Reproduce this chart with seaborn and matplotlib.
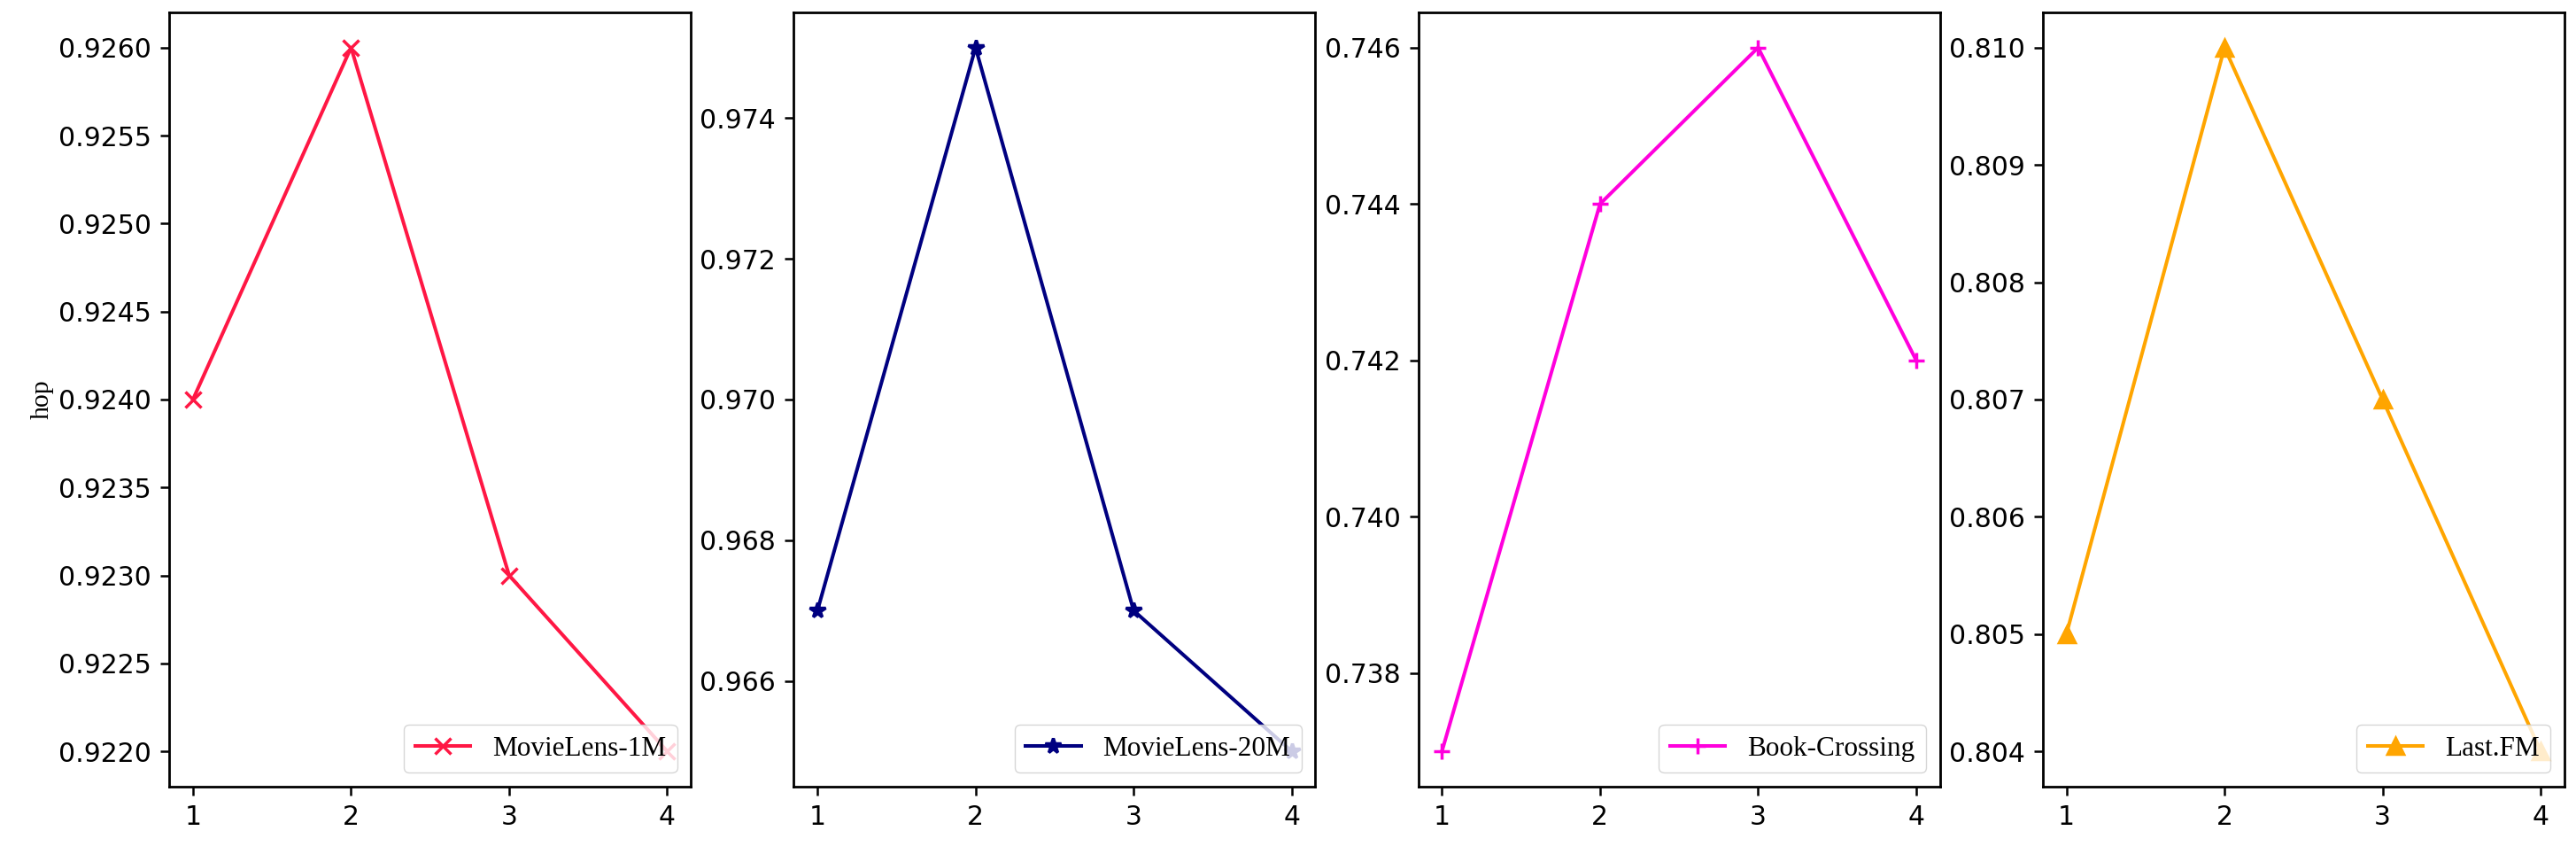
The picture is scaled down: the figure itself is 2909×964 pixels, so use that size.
import matplotlib
matplotlib.use('Agg')
import matplotlib.pyplot as plt
import seaborn as sns
import pandas as pd

# hop-tal och resultat per dataset
hops = [1, 2, 3, 4]
ml1m = [0.9240, 0.9260, 0.9230, 0.9220]
ml20m = [0.967, 0.975, 0.967, 0.965]
book = [0.737, 0.744, 0.746, 0.742]
lastfm = [0.805, 0.810, 0.807, 0.804]

names = ['MovieLens-1M', 'MovieLens-20M', 'Book-Crossing', 'Last.FM']
series = [ml1m, ml20m, book, lastfm]
colors = ['#ff1744', '#000080', '#ff00dd', '#ffa500']
markers = ['x', '*', '+', '^']

plt.rcParams['font.size'] = 21.5
plt.rcParams['axes.linewidth'] = 2.0
plt.rcParams['xtick.major.width'] = 1.8
plt.rcParams['ytick.major.width'] = 1.8
plt.rcParams['xtick.major.size'] = 7.5
plt.rcParams['ytick.major.size'] = 7.5
plt.rcParams['xtick.major.pad'] = 7
plt.rcParams['ytick.major.pad'] = 7

fig, axes = plt.subplots(1, 4, figsize=(29.09, 9.64), dpi=100)
fig.subplots_adjust(left=0.0657, right=0.9955, bottom=0.079, top=0.9855, wspace=0.197)

for ax, name, vals, c, m in zip(axes, names, series, colors, markers):
    df = pd.DataFrame({'hop': hops, 'val': vals})
    sns.lineplot(data=df, x='hop', y='val', ax=ax, color=c, marker=m,
                 markersize=13, linewidth=2.9, label=name,
                 markeredgecolor=c, markeredgewidth=2.5)
    ax.set_xticks(hops)
    ax.set_xlabel('')
    ax.set_ylabel('')
    ax.legend(loc='lower right', prop={'family': 'Liberation Serif', 'size': 22.5})

axes[0].set_ylabel('hop', family='Liberation Serif', fontsize=21.5)

plt.savefig('out.png', dpi=100)
